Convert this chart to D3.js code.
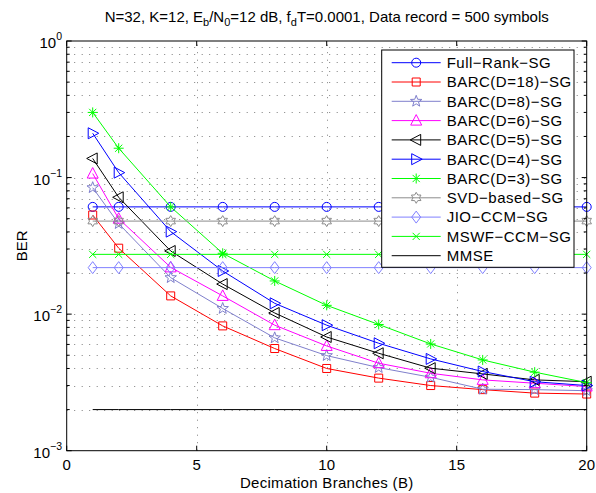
<!DOCTYPE html>
<html>
<head>
<meta charset="utf-8">
<script src="https://cdn.jsdelivr.net/npm/d3@7"></script>
<style>
  html, body { margin: 0; padding: 0; background: #fff; }
  svg { display: block; }
  text { font-family: "Liberation Sans", Arial, Helvetica, sans-serif; fill: #000; }
</style>
</head>
<body>
<svg id="chart" width="596" height="493"></svg>
<script>
// ---------------- data ----------------
const branches = [1, 2, 4, 6, 8, 10, 12, 14, 16, 18, 20];
const fullRankSG = [0.061, 0.061, 0.061, 0.061, 0.061, 0.061, 0.061, 0.061, 0.061, 0.061, 0.061];
const barcD18 = [0.0532, 0.0304, 0.0136, 0.0082, 0.0056, 0.0040, 0.0034, 0.0030, 0.0028, 0.00264, 0.0026];
const barcD8 = [0.0843, 0.046, 0.0185, 0.011, 0.0067, 0.00497, 0.00406, 0.00345, 0.00282, 0.0028, 0.00275];
const barcD6 = [0.107, 0.050, 0.022, 0.0136, 0.0083, 0.00585, 0.00437, 0.00369, 0.0033, 0.00312, 0.00295];
const barcD5 = [0.138, 0.0717, 0.029, 0.0166, 0.0102, 0.0068, 0.00517, 0.00402, 0.00365, 0.0033, 0.0032];
const barcD4 = [0.211, 0.1087, 0.0402, 0.0207, 0.012, 0.0083, 0.00612, 0.0047, 0.0038, 0.0032, 0.0030];
const barcD3 = [0.30, 0.164, 0.061, 0.0279, 0.0175, 0.0116, 0.0084, 0.00605, 0.00462, 0.00376, 0.00315];
const svdSG = [0.048, 0.048, 0.048, 0.048, 0.048, 0.048, 0.048, 0.048, 0.048, 0.048, 0.048];
const jioCCM = [0.0219, 0.0219, 0.0219, 0.0219, 0.0219, 0.0219, 0.0219, 0.0219, 0.0219, 0.0219, 0.0219];
const mswfCCM = [0.0274, 0.0274, 0.0274, 0.0274, 0.0274, 0.0274, 0.0274, 0.0274, 0.0274, 0.0274, 0.0274];
const mmse = [0.002, 0.002, 0.002, 0.002, 0.002, 0.002, 0.002, 0.002, 0.002, 0.002, 0.002];

const seriesNames = ["Full\u2212Rank\u2212SG", "BARC(D=18)\u2212SG", "BARC(D=8)\u2212SG", "BARC(D=6)\u2212SG",
  "BARC(D=5)\u2212SG", "BARC(D=4)\u2212SG", "BARC(D=3)\u2212SG", "SVD\u2212based\u2212SG",
  "JIO\u2212CCM\u2212SG", "MSWF\u2212CCM\u2212SG", "MMSE"];
const xTicks = [0, 5, 10, 15, 20];
const yTickExponents = [0, -1, -2, -3];

// ---------------- styles ----------------
const series = [
  { name: seriesNames[0], values: fullRankSG, color: "#0000ff", marker: "o" },
  { name: seriesNames[1], values: barcD18, color: "#ff0000", marker: "s" },
  { name: seriesNames[2], values: barcD8, color: "#7f7fcc", marker: "p" },
  { name: seriesNames[3], values: barcD6, color: "#ff00ff", marker: "^" },
  { name: seriesNames[4], values: barcD5, color: "#000000", marker: "<" },
  { name: seriesNames[5], values: barcD4, color: "#0000ff", marker: ">" },
  { name: seriesNames[6], values: barcD3, color: "#00ff00", marker: "*" },
  { name: seriesNames[7], values: svdSG, color: "#8c8c8c", marker: "h" },
  { name: seriesNames[8], values: jioCCM, color: "#8080ff", marker: "d" },
  { name: seriesNames[9], values: mswfCCM, color: "#00ff00", marker: "x" },
  { name: seriesNames[10], values: mmse, color: "#000000", marker: null }
];

const W = 596, H = 493;
const pL = 66.7, pR = 586.7, pT = 41, pB = 450.7;

const svg = d3.select("#chart");
const x = d3.scaleLinear().domain([0, 20]).range([pL, pR]);
const y = d3.scaleLog().domain([1e-3, 1]).range([pB, pT]);

// ---------------- grid ----------------
const grid = svg.append("g").attr("stroke", "#000").attr("stroke-width", 1)
  .attr("stroke-dasharray", "1,6.5").attr("opacity", 0.5);
xTicks.slice(1, -1).forEach(t => {
  grid.append("line").attr("x1", Math.round(x(t)) + 0.5).attr("x2", Math.round(x(t)) + 0.5)
    .attr("y1", pB).attr("y2", pT);
});
const yGridVals = [];
for (let e = -3; e < 0; e++) {
  for (let m = 1; m <= 9; m++) yGridVals.push(m * Math.pow(10, e));
}
yGridVals.forEach(v => {
  if (v <= 1e-3 * 1.0001) return;
  grid.append("line").attr("x1", pL).attr("x2", pR)
    .attr("y1", Math.round(y(v)) + 0.5).attr("y2", Math.round(y(v)) + 0.5);
});

// ---------------- markers ----------------
function markerPath(type) {
  const p = d3.path();
  if (type === "o") {
    p.arc(0, 0, 4.5, 0, 2 * Math.PI);
  } else if (type === "s") {
    p.rect(-4, -4, 8, 8);
  } else if (type === "p" || type === "h") {
    const n = type === "p" ? 5 : 6;
    const ro = type === "p" ? 6 : 5.5;
    const ri = type === "p" ? 2.5 : 3.2;
    for (let i = 0; i < 2 * n; i++) {
      const a = -Math.PI / 2 + i * Math.PI / n;
      const r = i % 2 === 0 ? ro : ri;
      if (i === 0) p.moveTo(r * Math.cos(a), r * Math.sin(a));
      else p.lineTo(r * Math.cos(a), r * Math.sin(a));
    }
    p.closePath();
  } else if (type === "^") {
    p.moveTo(0, -6); p.lineTo(5.5, 4.5); p.lineTo(-5.5, 4.5); p.closePath();
  } else if (type === "<") {
    p.moveTo(-6, 0); p.lineTo(4.5, -5.5); p.lineTo(4.5, 5.5); p.closePath();
  } else if (type === ">") {
    p.moveTo(6, 0); p.lineTo(-4.5, -5.5); p.lineTo(-4.5, 5.5); p.closePath();
  } else if (type === "*") {
    const r = 5, d = 3.6;
    p.moveTo(-r, 0); p.lineTo(r, 0);
    p.moveTo(0, -r); p.lineTo(0, r);
    p.moveTo(-d, -d); p.lineTo(d, d);
    p.moveTo(-d, d); p.lineTo(d, -d);
  } else if (type === "d") {
    p.moveTo(0, -6); p.lineTo(4.5, 0); p.lineTo(0, 6); p.lineTo(-4.5, 0); p.closePath();
  } else if (type === "x") {
    const d = 3.6;
    p.moveTo(-d, -d); p.lineTo(d, d);
    p.moveTo(-d, d); p.lineTo(d, -d);
  }
  return p.toString();
}

// ---------------- series ----------------
const lineGen = d3.line().x(d => x(d[0])).y(d => y(d[1]));
const plotG = svg.append("g");
series.forEach(s => {
  const pts = branches.map((b, i) => [b, s.values[i]]);
  plotG.append("path").attr("d", lineGen(pts)).attr("fill", "none")
    .attr("stroke", s.color).attr("stroke-width", 1);
  if (s.marker) {
    plotG.append("g").selectAll("path").data(pts).join("path")
      .attr("transform", d => `translate(${x(d[0])},${y(d[1])})`)
      .attr("d", markerPath(s.marker))
      .attr("fill", "none").attr("stroke", s.color).attr("stroke-width", 1);
  }
});

// ---------------- axes box & ticks ----------------
const axG = svg.append("g").attr("stroke", "#000").attr("stroke-width", 1).attr("fill", "none");
axG.append("rect").attr("x", pL).attr("y", pT).attr("width", pR - pL).attr("height", pB - pT);
xTicks.forEach(t => {
  const xx = x(t);
  axG.append("line").attr("x1", xx).attr("x2", xx).attr("y1", pB).attr("y2", pB - 5);
  axG.append("line").attr("x1", xx).attr("x2", xx).attr("y1", pT).attr("y2", pT + 5);
});
yGridVals.concat([1]).forEach(v => {
  const isMajor = Math.abs(Math.log10(v) - Math.round(Math.log10(v))) < 1e-9;
  const len = isMajor ? 5 : 3;
  const yy = y(v);
  axG.append("line").attr("x1", pL).attr("x2", pL + len).attr("y1", yy).attr("y2", yy);
  axG.append("line").attr("x1", pR).attr("x2", pR - len).attr("y1", yy).attr("y2", yy);
});

// tick labels
const fs = 15;
xTicks.forEach(t => {
  svg.append("text").attr("x", x(t)).attr("y", 470).attr("text-anchor", "middle")
    .attr("font-size", fs).text(t);
});
yTickExponents.forEach(e => {
  const yy = y(Math.pow(10, e));
  const t = svg.append("text").attr("x", 62).attr("y", yy + 7).attr("text-anchor", "end")
    .attr("font-size", fs);
  t.append("tspan").text("10");
  t.append("tspan").attr("dy", -8).attr("font-size", 10.5).text(e === 0 ? "0" : "\u2212" + (-e));
});

// axis labels
svg.append("text").attr("x", (pL + pR) / 2).attr("y", 488).attr("text-anchor", "middle")
  .attr("font-size", fs).attr("letter-spacing", 0.3).text("Decimation Branches (B)");
svg.append("text").attr("transform", `translate(27,${(pT + pB) / 2}) rotate(-90)`)
  .attr("text-anchor", "middle").attr("font-size", fs).text("BER");

// title
const title = svg.append("text").attr("x", (pL + pR) / 2).attr("y", 22)
  .attr("text-anchor", "middle").attr("font-size", 15);
title.append("tspan").text("N=32, K=12, E");
title.append("tspan").attr("dy", 4).attr("font-size", 11).text("b");
title.append("tspan").attr("dy", -4).text("/N");
title.append("tspan").attr("dy", 4).attr("font-size", 11).text("0");
title.append("tspan").attr("dy", -4).text("=12 dB, f");
title.append("tspan").attr("dy", 4).attr("font-size", 11).text("d");
title.append("tspan").attr("dy", -4).text("T=0.0001, Data record = 500 symbols");

// ---------------- legend ----------------
const lg = { x0: 381.7, y0: 50, x1: 574, y1: 267.3, row0: 62.7, dy: 19.3 };
const legend = svg.append("g");
legend.append("rect").attr("x", lg.x0).attr("y", lg.y0).attr("width", lg.x1 - lg.x0)
  .attr("height", lg.y1 - lg.y0).attr("fill", "#fff").attr("stroke", "#000").attr("stroke-width", 1);
series.forEach((s, i) => {
  const yy = lg.row0 + i * lg.dy;
  legend.append("line").attr("x1", 391.7).attr("x2", 440.7).attr("y1", yy).attr("y2", yy)
    .attr("stroke", s.color).attr("stroke-width", 1);
  if (s.marker) {
    legend.append("path").attr("transform", `translate(416.2,${yy})`).attr("d", markerPath(s.marker))
      .attr("fill", "none").attr("stroke", s.color).attr("stroke-width", 1);
  }
  legend.append("text").attr("x", 446.7).attr("y", yy + 5.3).attr("font-size", fs)
    .attr("letter-spacing", 0.5).text(s.name);
});
</script>
</body>
</html>
